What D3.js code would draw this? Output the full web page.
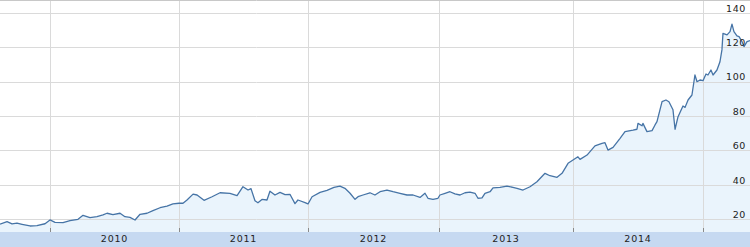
<!DOCTYPE html>
<html><head><meta charset="utf-8">
<script src="https://cdn.jsdelivr.net/npm/d3@7"></script>
<style>html,body{margin:0;padding:0;background:#fff;overflow:hidden}</style>
</head><body>
<svg id="c" width="750" height="247"></svg>
<script>
// Time in decimal years
const times = [
2009.617,2009.671,2009.709,2009.747,2009.786,2009.847,2009.900,2009.962,2010.000,
2010.039,2010.101,2010.155,2010.217,2010.256,2010.310,2010.364,2010.411,2010.442,2010.488,2010.543,2010.581,2010.620,2010.659,2010.698,2010.752,2010.798,2010.853,2010.907,2010.953,2011.000,
2011.031,2011.062,2011.109,2011.140,2011.194,2011.256,2011.318,2011.395,2011.450,2011.496,2011.535,2011.558,2011.589,2011.612,2011.643,2011.682,2011.705,2011.744,2011.783,2011.822,2011.860,2011.899,2011.922,2011.977,2012.000,
2012.031,2012.092,2012.145,2012.198,2012.244,2012.282,2012.321,2012.359,2012.382,2012.420,2012.473,2012.511,2012.550,2012.603,2012.649,2012.702,2012.756,2012.802,2012.855,2012.893,2012.916,2012.954,2012.992,
2013.007,2013.045,2013.082,2013.119,2013.157,2013.194,2013.231,2013.269,2013.291,2013.321,2013.343,2013.381,2013.403,2013.455,2013.507,2013.552,2013.582,2013.627,2013.679,2013.731,2013.791,2013.828,2013.881,2013.918,2013.963,2014.000,
2014.038,2014.054,2014.108,2014.169,2014.223,2014.246,2014.269,2014.308,2014.362,2014.400,2014.462,2014.492,2014.500,2014.531,2014.538,2014.569,2014.608,2014.631,2014.646,2014.685,2014.715,2014.738,2014.769,2014.785,2014.808,2014.846,2014.862,2014.885,2014.915,2014.938,2014.954,2014.977,2015.000,
2015.023,2015.038,2015.061,2015.077,2015.107,2015.130,2015.145,2015.153,2015.184,2015.207,2015.222,2015.237,2015.260,2015.276,2015.299,2015.314,2015.337,2015.360
];
const prices = [
17.2,18.6,17.3,17.7,17.1,16.1,16.3,17.4,19.6,
18.2,18.0,19.2,20.0,22.3,20.9,21.5,22.5,23.5,22.7,23.5,21.5,21.1,19.6,22.9,23.5,25.0,26.7,27.7,28.9,29.3,
29.3,31.2,34.6,34.1,31.0,33.1,35.4,35.1,33.8,38.9,37.0,37.8,30.8,29.6,31.5,31.2,36.3,34.1,35.6,34.3,34.5,29.1,31.2,29.7,28.9,
33.1,35.6,36.8,38.5,39.3,38.0,35.1,31.6,33.1,34.1,35.4,34.1,36.0,37.0,36.0,35.1,34.1,34.1,32.7,35.1,32.2,31.6,32.2,
34.1,35.1,36.0,34.7,34.1,35.4,35.8,35.1,32.2,32.4,35.1,36.0,38.2,38.5,39.3,38.5,38.0,37.0,38.9,41.8,46.7,45.3,44.4,46.7,52.5,54.4,
56.3,54.8,57.3,62.6,64.1,64.5,60.2,61.8,67.0,70.9,71.8,72.3,75.7,74.3,75.7,70.9,71.5,74.8,76.7,88.3,89.3,88.3,83.6,72.3,79.6,85.8,85.0,89.3,92.2,103.8,99.9,100.9,100.5,
104.4,103.8,106.7,103.8,106.7,111.5,118.4,128.0,127.1,129.0,133.4,129.0,126.5,126.1,123.2,120.3,123.2,123.8
];
const yearTicks = [2010, 2011, 2012, 2013, 2014, 2015];
const yearLabels = ["2010", "2011", "2012", "2013", "2014"];
const valueTicks = [20, 40, 60, 80, 100, 120, 140];

const W = 750, H = 247, plotBottom = 232;
const svg = d3.select("#c");
const data = times.map((t, i) => ({t, v: prices[i]}));
const ext = d3.extent(times);

const x = d3.scaleLinear()
  .domain([ext[0], ...yearTicks, ext[1]])
  .range([0, 50, 179, 308, 439, 573, 703, 750]);
const y = d3.scaleLinear().domain([0, 140]).range([253.7, 12.7]);

// area fill
svg.append("path").datum(data)
  .attr("d", d3.area().x(d => x(d.t)).y0(plotBottom).y1(d => y(d.v)))
  .attr("fill", "#eaf4fc");

// horizontal grid
svg.append("g").selectAll("line").data(valueTicks).join("line")
  .attr("x1", 0).attr("x2", W)
  .attr("y1", d => Math.round(y(d)) + 0.5).attr("y2", d => Math.round(y(d)) + 0.5)
  .attr("stroke", "#dadada").attr("stroke-width", 1);

// vertical grid
svg.append("g").selectAll("line").data(yearTicks).join("line")
  .attr("x1", d => Math.round(x(d)) + 0.5).attr("x2", d => Math.round(x(d)) + 0.5)
  .attr("y1", 0).attr("y2", plotBottom)
  .attr("stroke", "#dadada").attr("stroke-width", 1);

// top border
svg.append("line").attr("x1", 0).attr("x2", W).attr("y1", 0.5).attr("y2", 0.5)
  .attr("stroke", "#c8c8c8");

// price line
svg.append("path").datum(data)
  .attr("d", d3.line().x(d => x(d.t)).y(d => y(d.v)))
  .attr("fill", "none").attr("stroke", "#4674a6").attr("stroke-width", 1.3)
  .attr("stroke-linejoin", "round");

// bottom band
svg.append("rect").attr("x", 0).attr("y", plotBottom).attr("width", W).attr("height", H - plotBottom)
  .attr("fill", "#c6d9f1");

// tick marks
svg.append("g").selectAll("line").data(yearTicks).join("line")
  .attr("x1", d => Math.round(x(d)) + 0.5).attr("x2", d => Math.round(x(d)) + 0.5)
  .attr("y1", plotBottom - 4).attr("y2", plotBottom)
  .attr("stroke", "#8a8a8a");

// year labels, centred in each year
svg.append("g").selectAll("text").data(yearLabels).join("text")
  .attr("x", d => (x(+d) + x(+d + 1)) / 2)
  .attr("y", 242.3)
  .attr("text-anchor", "middle")
  .attr("font-family", "DejaVu Sans, Verdana, sans-serif")
  .attr("font-size", "9.5px").attr("letter-spacing", "0.8px")
  .attr("fill", "#222")
  .text(d => d);

// value labels on the right
svg.append("g").selectAll("text").data(valueTicks).join("text")
  .attr("x", 746).attr("y", d => y(d) - 1.2)
  .attr("text-anchor", "end")
  .attr("font-family", "DejaVu Sans, Verdana, sans-serif")
  .attr("font-size", "9.5px").attr("letter-spacing", "0.6px")
  .attr("fill", "#222")
  .text(d => d);
</script>
</body></html>
